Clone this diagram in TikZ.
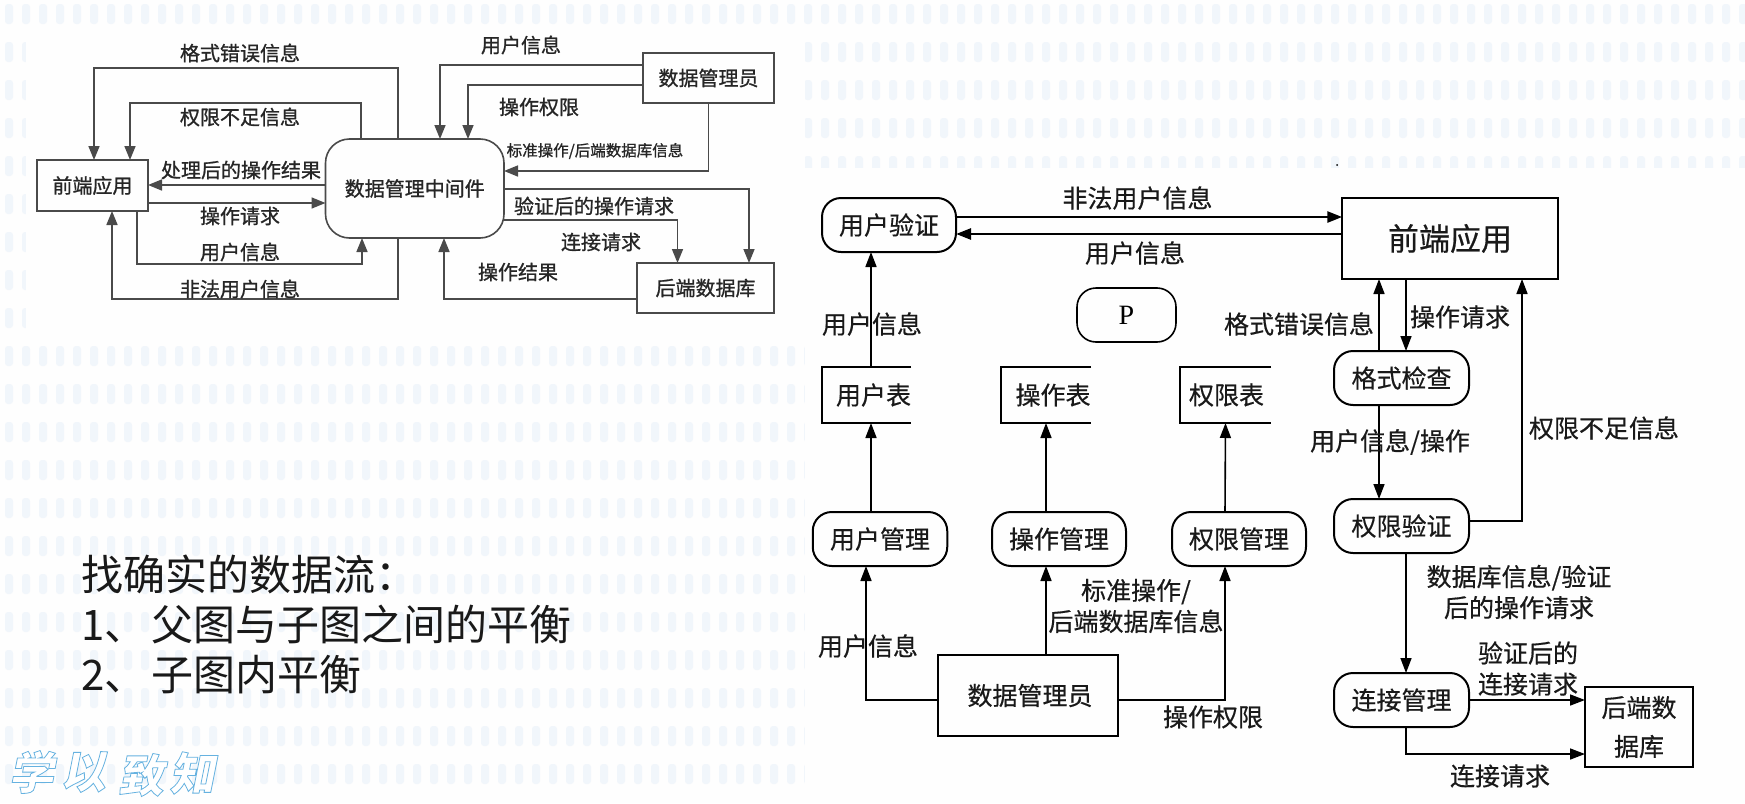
\documentclass[tikz,border=0pt]{standalone}
\usepackage{fontspec}
\usetikzlibrary{arrows.meta}
\setmainfont{Noto Sans CJK SC}
\newfontfamily\leftfont{Noto Sans CJK SC}[FakeBold=1]
\newfontfamily\rightfont{Noto Sans CJK SC}[FakeBold=0.5]
\newfontfamily\wmfont{Noto Sans CJK SC}[FakeSlant=0.2]
\newfontfamily\pfont{Liberation Serif}
\definecolor{dotblue}{HTML}{F1F6FB}
\definecolor{paper}{HTML}{FEFEFE}
\definecolor{lgray}{HTML}{4A4A4A}
\newcommand{\wmchar}[1]{\special{pdf:code 2 Tr 0.8 w 0.40 0.70 0.88 RG}#1\special{pdf:code 0 Tr 1 w 0 G}}
\tikzset{
  box/.style={draw,inner sep=0pt,outer sep=0pt,align=center},
  lbox/.style={box,draw=lgray,line width=1.6pt,font=\leftfont\fontsize{20}{24}\selectfont,text=black!85},
  lround/.style={lbox,rounded corners=24pt},
  lflow/.style={draw=lgray,line width=1.6pt,-{Triangle[length=14pt,width=11pt]}},
  llabel/.style={inner sep=0pt,font=\leftfont\fontsize{20}{24}\selectfont,text=black!85},
  rbox/.style={box,draw=black,line width=2pt,font=\rightfont\fontsize{25}{30}\selectfont,text=black!90},
  rround/.style={rbox,rounded corners=19pt},
  rflow/.style={draw=black,line width=1.6pt,-{Triangle[length=15pt,width=11pt]}},
  rthick/.style={rflow,line width=2.6pt},
  rlabel/.style={inner sep=0pt,align=center,font=\rightfont\fontsize{25}{31}\selectfont,text=black!90},
  tbl/.style={inner sep=0pt,outer sep=0pt,font=\rightfont\fontsize{25}{30}\selectfont,text=black!90},
}
\begin{document}
\begin{tikzpicture}[x=1pt,y=-1pt]
\useasboundingbox (0,0) rectangle (1745,803);
\fill[paper] (0,0) rectangle (1745,803);
% background dots
\foreach \row in {0,...,20}{
  \foreach \col in {0,...,102}{
    \fill[dotblue,rounded corners=3pt] ({5+17*\col},{4+38*\row}) rectangle ++(8,20);
  }
}
\fill[paper] (26,31) rectangle (805,336);
\fill[paper] (805,168) rectangle (1745,803);
\fill[black] (1337,165) circle (1pt);

% ---------- left diagram ----------
\node[lbox,minimum width=111pt,minimum height=51pt] (fe) at (92.5,185.5) {前端应用};
\node[lround,minimum width=178.5pt,minimum height=99pt] (mid) at (414.75,188.5) {数据管理中间件};
\node[lbox,minimum width=131pt,minimum height=50pt] (adm) at (708.5,78) {数据管理员};
\node[lbox,minimum width=137pt,minimum height=50pt] (db) at (705.5,288) {后端数据库};

\draw[lflow] ([xshift=-16.75pt]mid.north) -- ++(0,-71) -| ([xshift=1.5pt]fe.north);
\draw[lflow] ([xshift=-53.75pt]mid.north) -- ++(0,-36) -| ([xshift=37.5pt]fe.north);
\draw[lflow] ([yshift=3.5pt]mid.west) -- ([yshift=0.5pt]fe.east);
\draw[lflow] ([yshift=-17.5pt]fe.east) -- ([yshift=-14.5pt]mid.west);
\draw[lflow] ([xshift=44.5pt]fe.south) -- ++(0,53) -| ([xshift=-52.75pt]mid.south);
\draw[lflow] ([xshift=-16.75pt]mid.south) -- ++(0,61) -| ([xshift=19.5pt]fe.south);
\draw[lflow] ([yshift=-11pt]db.west) -| ([xshift=29.25pt]mid.south);
\draw[lflow] ([yshift=13pt]adm.west) -| ([xshift=25.25pt]mid.north);
\draw[lflow] ([yshift=-7pt]adm.west) -| ([xshift=53.25pt]mid.north);
\draw[lflow] (adm.south) -- ++(0,68) -- ([yshift=17.5pt]mid.east);
\draw[lflow] ([yshift=-0.5pt]mid.east) -| ([xshift=43.5pt]db.north);
\draw[lflow] ([yshift=-31.5pt]mid.east) -| ([xshift=-28pt]db.north);

\node[llabel] (la1) at (240,53) {格式错误信息};
\node[llabel] (la2) at (240,117) {权限不足信息};
\node[llabel] (la3) at (241,170) {处理后的操作结果};
\node[llabel] (la4) at (240,216) {操作请求};
\node[llabel] (la5) at (240,252) {用户信息};
\node[llabel] (la6) at (240,289) {非法用户信息};
\node[llabel] (la7) at (521,45) {用户信息};
\node[llabel] (la8) at (539,107) {操作权限};
\node[llabel,font=\leftfont\fontsize{15.5}{18}\selectfont] (la9) at (595,151) {标准操作/后端数据库信息};
\node[llabel] (la10) at (594,206) {验证后的操作请求};
\node[llabel] (la11) at (601,242) {连接请求};
\node[llabel] (la12) at (518,272) {操作结果};

% ---------- right diagram ----------
\node[rround,minimum width=134pt,minimum height=54pt] (auth) at (889,225) {用户验证};
\node[rbox,font=\rightfont\fontsize{31}{36}\selectfont,minimum width=215.5pt,minimum height=81pt] (fe2) at (1450,238.5) {前端应用};
\node[box,draw=black,line width=1.6pt,rounded corners=19pt,minimum width=99pt,minimum height=54pt,font=\pfont\fontsize{28}{32}\selectfont] (pnode) at (1126.5,315) {P};
\node[tbl,minimum width=89pt,minimum height=56pt] (t1) at (866.5,395) {\hspace{14pt}用户表};
\node[tbl,minimum width=90pt,minimum height=56pt] (t2) at (1046,395) {\hspace{14pt}操作表};
\node[tbl,minimum width=91pt,minimum height=56pt] (t3) at (1225.5,395) {\hspace{2pt}权限表};
\foreach \t in {t1,t2,t3}{
  \draw[line width=2pt] (\t.north east) -- (\t.north west) -- (\t.south west) -- (\t.south east);
}
\node[rround,minimum width=135pt,minimum height=54pt] (chk) at (1401.5,378) {格式检查};
\node[rround,minimum width=135pt,minimum height=54pt] (ver) at (1401.5,526) {权限验证};
\node[rround,minimum width=134.5pt,minimum height=54pt] (um) at (880,539) {用户管理};
\node[rround,minimum width=134pt,minimum height=54pt] (om) at (1059,539) {操作管理};
\node[rround,minimum width=134pt,minimum height=54pt] (pm) at (1239,539) {权限管理};
\node[rbox,minimum width=179.5pt,minimum height=81pt] (adm2) at (1028,695.5) {\hspace{4pt}数据管理员};
\node[rround,minimum width=135pt,minimum height=54pt] (conn) at (1401.5,700) {连接管理};
\node[rbox,minimum width=108pt,minimum height=80pt,font=\rightfont\fontsize{25}{39}\selectfont] (db2) at (1639,727) {后端数\\据库};

\draw[rthick] ([yshift=8pt]auth.east) -- ([yshift=21.5pt]fe2.west);
\draw[rthick] ([yshift=4.5pt]fe2.west) -- ([yshift=-9pt]auth.east);
\draw[rflow] ([xshift=4.5pt]t1.north) -- ([xshift=-18pt]auth.south);
\draw[rflow] ([xshift=-9pt]um.north) -- ([xshift=4.5pt]t1.south);
\draw[rflow] ([xshift=-13pt]om.north) -- (t2.south);
\draw[rflow] ([xshift=-14pt]pm.north) -- (t3.south);
\draw[rflow] ([xshift=-22.5pt]chk.north) -- ([xshift=-71pt]fe2.south);
\draw[rflow] ([xshift=-44pt]fe2.south) -- ([xshift=4.5pt]chk.north);
\draw[rflow] ([xshift=-22.5pt]chk.south) -- ([xshift=-22.5pt]ver.north);
\draw[rflow] ([yshift=5pt]ver.east) -| ([xshift=72pt]fe2.south);
\draw[rflow] ([xshift=4.5pt]ver.south) -- ([xshift=4.5pt]conn.north);
\draw[rflow] (conn.east) -- ([yshift=27pt]db2.west);
\draw[rflow] ([xshift=4.5pt]conn.south) |- ([yshift=-27pt]db2.west);
\draw[rflow] ([yshift=-4.5pt]adm2.west) -| ([xshift=-14pt]um.south);
\draw[rflow] ([xshift=18pt]adm2.north) -- ([xshift=-13pt]om.south);
\draw[rflow] ([yshift=-4.5pt]adm2.east) -| ([xshift=-14pt]pm.south);

\node[rlabel] (lb1) at (1137.5,198) {非法用户信息};
\node[rlabel] (lb2) at (1135,253) {用户信息};
\node[rlabel] (lb3) at (872,324) {用户信息};
\node[rlabel] (lb4) at (1299,324) {格式错误信息};
\node[rlabel] (lb5) at (1460,317) {操作请求};
\node[rlabel] (lb6) at (1390,442) {用户信息/操作};
\node[rlabel] (lb7) at (1604,428) {权限不足信息};
\node[rlabel] (lb8) at (1136,606) {标准操作/\\后端数据库信息};
\node[rlabel] (lb9) at (868,646) {用户信息};
\node[rlabel] (lb10) at (1213,717) {操作权限};
\node[rlabel] (lb11) at (1519,592) {数据库信息/验证\\后的操作请求};
\node[rlabel] (lb12) at (1528,668.5) {验证后的\\连接请求};
\node[rlabel] (lb13) at (1500,776) {连接请求};

% ---------- notes ----------
\node[inner sep=0pt,anchor=west,align=left,font=\fontsize{42}{50}\selectfont,text=black!90] (notes) at (81,624) {找确实的数据流：\\1、\hspace{5pt}父图与子图之间的平衡\\2、\hspace{5pt}子图内平衡};

% ---------- watermark ----------
\foreach \ch/\px/\py/\nm in {学/31/772/wa,以/83/772/wb,致/141/775/wc,知/192/773/wd}{
  \node[inner sep=0pt,text=white,font=\wmfont\bfseries\fontsize{45}{45}\selectfont] (\nm) at (\px,\py) {\wmchar{\ch}};
}
\end{tikzpicture}
\end{document}
